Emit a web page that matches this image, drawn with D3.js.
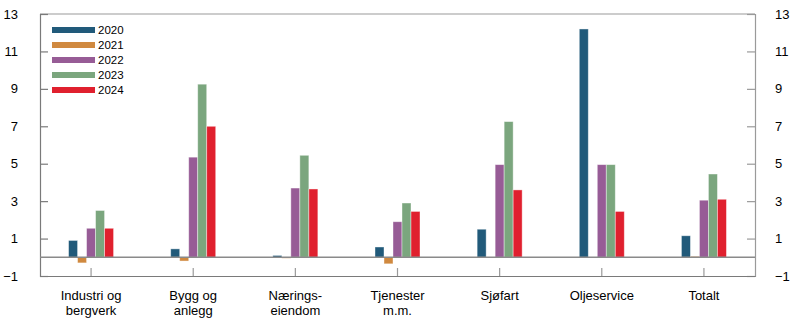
<!DOCTYPE html>
<html>
<head>
<meta charset="utf-8">
<script src="https://cdnjs.cloudflare.com/ajax/libs/d3/7.8.5/d3.min.js"></script>
<style>
  body { margin: 0; background: #fff; }
  svg { display: block; font-family: "Liberation Sans", Arial, sans-serif; }
</style>
</head>
<body>
<div class="chart-container"></div>
<script>
// Data
var categories = [["Industri og", "bergverk"], ["Bygg og", "anlegg"], ["Nærings-", "eiendom"],
    ["Tjenester", "m.m."], ["Sjøfart"], ["Oljeservice"], ["Totalt"]];
var years = ["2020", "2021", "2022", "2023", "2024"];
var colors = ["#215a7a", "#d0893f", "#975c96", "#7ba67e", "#e0202e"];
var values2020 = [0.9, 0.45, 0.1, 0.55, 1.5, 12.2, 1.15];
var values2021 = [-0.3, -0.2, -0.05, -0.35, 0, 0, 0.05];
var values2022 = [1.55, 5.35, 3.7, 1.9, 4.95, 4.95, 3.05];
var values2023 = [2.5, 9.25, 5.45, 2.9, 7.25, 4.95, 4.45];
var values2024 = [1.55, 7.0, 3.65, 2.45, 3.6, 2.45, 3.1];
var tickValues = [-1, 1, 3, 5, 7, 9, 11, 13];

var series = [values2020, values2021, values2022, values2023, values2024];

// Size and plot area
var width = 797, height = 332;
var plot = { left: 40, right: 755, top: 14, bottom: 276 };

var svg = d3.select(".chart-container").append("svg")
    .attr("width", width)
    .attr("height", height);

// Scales
var x = d3.scaleBand()
    .domain(categories.map(function(d, i) { return i; }))
    .range([plot.left, plot.right]);
var x1 = d3.scaleBand()
    .domain(years)
    .range([0, 45]);
var y = d3.scaleLinear()
    .domain([-1, 13])
    .range([plot.bottom, plot.top]);

var axisColor = "#7a7a7a";

// Frame: top line
svg.append("line")
    .attr("x1", plot.left).attr("x2", plot.right)
    .attr("y1", plot.top).attr("y2", plot.top)
    .attr("stroke", "#9a9a9a").attr("stroke-width", 1.2);

// Left axis (ticks inward)
var leftAxis = svg.append("g")
    .attr("transform", "translate(" + plot.left + ",0)")
    .call(d3.axisRight(y).tickValues(tickValues).tickSize(8).tickFormat(""));
leftAxis.select(".domain").attr("stroke", axisColor).attr("stroke-width", 1.2);
leftAxis.selectAll(".tick line").attr("stroke", axisColor).attr("stroke-width", 1.2);

// Right axis (ticks inward)
var rightAxis = svg.append("g")
    .attr("transform", "translate(" + plot.right + ",0)")
    .call(d3.axisLeft(y).tickValues(tickValues).tickSize(8).tickFormat(""));
rightAxis.select(".domain").attr("stroke", "#9a9a9a").attr("stroke-width", 1.2);
rightAxis.selectAll(".tick line").attr("stroke", "#9a9a9a").attr("stroke-width", 1.2);

// Tick labels
function fmt(v) { return v < 0 ? "\u2212" + Math.abs(v) : String(v); }
svg.selectAll(".ylab-left")
    .data(tickValues)
    .enter().append("text")
    .attr("x", 18)
    .attr("y", function(d) { return y(d); })
    .attr("dy", "0.35em")
    .attr("text-anchor", "end")
    .style("font-size", "13px")
    .text(fmt);
svg.selectAll(".ylab-right")
    .data(tickValues)
    .enter().append("text")
    .attr("x", 775)
    .attr("y", function(d) { return y(d); })
    .attr("dy", "0.35em")
    .attr("text-anchor", "start")
    .style("font-size", "13px")
    .text(fmt);

// Bottom axis with category ticks pointing up
var bottomAxis = svg.append("g")
    .attr("transform", "translate(0," + plot.bottom + ")")
    .call(d3.axisTop(x).tickSize(8).tickSizeOuter(0).tickFormat(""));
bottomAxis.select(".domain").attr("stroke", axisColor).attr("stroke-width", 1.2);
bottomAxis.selectAll(".tick line").attr("stroke", "#9a9a9a").attr("stroke-width", 1.2);

// Category labels
var catLabels = svg.selectAll(".cat")
    .data(categories)
    .enter().append("text")
    .attr("class", "cat")
    .attr("text-anchor", "middle")
    .attr("x", function(d, i) { return x(i) + x.bandwidth() / 2; })
    .attr("y", 300)
    .style("font-size", "13px");
catLabels.selectAll("tspan")
    .data(function(d) { return d; })
    .enter().append("tspan")
    .attr("x", function() { return d3.select(this.parentNode).attr("x"); })
    .attr("dy", function(d, i) { return i === 0 ? 0 : 15; })
    .text(function(d) { return d; });

// Bars
var groups = svg.selectAll(".group")
    .data(categories)
    .enter().append("g")
    .attr("transform", function(d, i) {
        return "translate(" + (x(i) + x.bandwidth() / 2 - 22.5) + ",0)";
    });
groups.selectAll("rect")
    .data(function(d, i) {
        return years.map(function(yr, j) { return { year: yr, value: series[j][i], color: colors[j] }; });
    })
    .enter().append("rect")
    .attr("x", function(d) { return x1(d.year); })
    .attr("width", x1.bandwidth())
    .attr("y", function(d) { return y(Math.max(0, d.value)); })
    .attr("height", function(d) { return Math.abs(y(d.value) - y(0)); })
    .attr("fill", function(d) { return d.color; })
    .attr("stroke", "rgba(255,255,255,0.5)")
    .attr("stroke-width", 0.8);

// Zero line
svg.append("line")
    .attr("x1", plot.left).attr("x2", plot.right)
    .attr("y1", y(0)).attr("y2", y(0))
    .attr("stroke", "#8a8a8a").attr("stroke-width", 1.5);

// Legend
var legend = svg.selectAll(".legend")
    .data(years)
    .enter().append("g")
    .attr("transform", function(d, i) { return "translate(52," + (30 + i * 15) + ")"; });
legend.append("rect")
    .attr("x", 0).attr("y", -3)
    .attr("width", 43).attr("height", 6)
    .attr("fill", function(d, i) { return colors[i]; });
legend.append("text")
    .attr("x", 46)
    .attr("dy", "0.35em")
    .style("font-size", "11.5px")
    .text(function(d) { return d; });
</script>
</body>
</html>
